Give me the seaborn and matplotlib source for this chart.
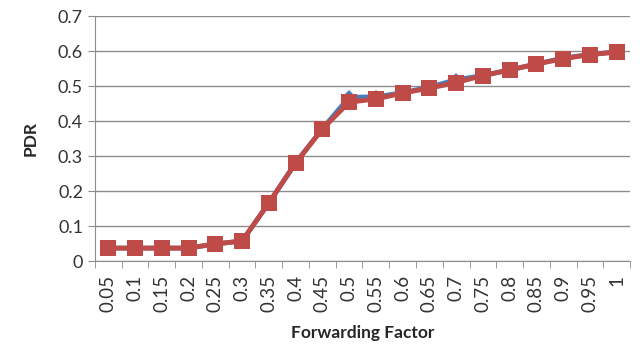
import numpy as np
import pandas as pd
import seaborn as sns
import matplotlib.pyplot as plt
from matplotlib.ticker import FixedLocator

factors = ['0.05', '0.1', '0.15', '0.2', '0.25', '0.3', '0.35', '0.4', '0.45', '0.5',
           '0.55', '0.6', '0.65', '0.7', '0.75', '0.8', '0.85', '0.9', '0.95', '1']
pdr_blue = [0.037, 0.037, 0.037, 0.037, 0.049, 0.057, 0.166, 0.28, 0.378, 0.468,
            0.469, 0.481, 0.497, 0.518, 0.53, 0.546, 0.563, 0.58, 0.59, 0.598]
pdr_red = [0.037, 0.037, 0.037, 0.037, 0.049, 0.057, 0.166, 0.28, 0.377, 0.454,
           0.463, 0.48, 0.494, 0.51, 0.53, 0.546, 0.563, 0.578, 0.59, 0.597]

df = pd.DataFrame({'pos': np.arange(len(factors)), 'blue': pdr_blue, 'red': pdr_red})

sns.set_style('white')
plt.rcParams['font.family'] = ['Lato', 'DejaVu Sans']

fig = plt.figure(figsize=(6.41, 3.49), dpi=100)
ax = fig.add_axes([0.148, 0.252, 0.835, 0.702])

sns.lineplot(data=df, x='pos', y='blue', ax=ax, color='#4A7EBB', linewidth=3.5,
             marker='D', markersize=7, markeredgewidth=0)
sns.lineplot(data=df, x='pos', y='red', ax=ax, color='#BE4B48', linewidth=3.5,
             marker='s', markersize=11, markeredgewidth=0)

ax.set_xlim(-0.5, len(factors) - 0.5)
ax.set_ylim(0, 0.7)
ax.set_yticks(np.arange(0, 0.71, 0.1))
ax.set_yticklabels(['0', '0.1', '0.2', '0.3', '0.4', '0.5', '0.6', '0.7'])
ax.yaxis.grid(True, color='#8c8c8c', linewidth=1)
ax.set_axisbelow(True)

ax.set_xticks(df['pos'])
ax.set_xticklabels(factors, rotation=90)
ax.xaxis.set_minor_locator(FixedLocator(np.arange(-0.5, len(factors), 1)))
ax.tick_params(axis='x', which='major', length=0, pad=10, labelsize=13.5, labelcolor='#333333')
ax.tick_params(axis='x', which='minor', length=5, color='#8c8c8c', bottom=True)
ax.tick_params(axis='y', length=5, color='#8c8c8c', left=True, labelsize=13, labelcolor='#333333')

for side in ['top', 'right']:
    ax.spines[side].set_visible(False)
for side in ['left', 'bottom']:
    ax.spines[side].set_color('#8c8c8c')

ax.set_xlabel('Forwarding Factor', fontsize=12.5, fontweight='bold', labelpad=9)
ax.set_ylabel('PDR', fontsize=12.5, fontweight='bold', labelpad=14)

fig.savefig('out.png', dpi=100)
